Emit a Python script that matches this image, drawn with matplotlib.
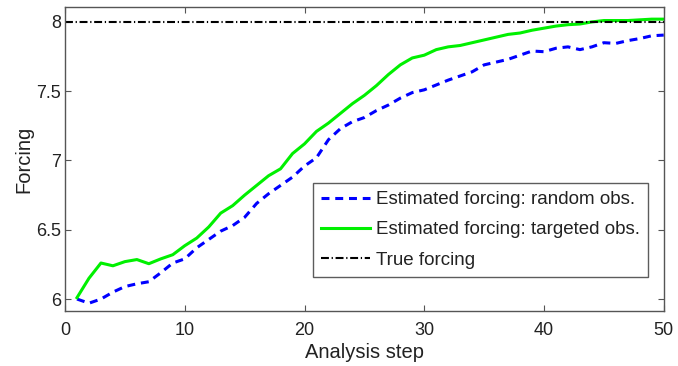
import numpy as np
import matplotlib
matplotlib.use('Agg')
import matplotlib.pyplot as plt

plt.rcParams['font.family'] = ['Liberation Sans', 'DejaVu Sans']

# analysis steps 1..50
steps = np.arange(1, 51)

# estimated forcing with random observations
random_obs = [6.00, 5.97, 6.00, 6.05, 6.09, 6.11, 6.125, 6.19, 6.26, 6.29,
              6.37, 6.43, 6.49, 6.53, 6.59, 6.69, 6.76, 6.82, 6.88, 6.96,
              7.02, 7.15, 7.23, 7.28, 7.31, 7.36, 7.40, 7.45, 7.49, 7.51,
              7.545, 7.58, 7.61, 7.64, 7.69, 7.71, 7.73, 7.76, 7.79, 7.785,
              7.81, 7.82, 7.80, 7.82, 7.85, 7.845, 7.865, 7.88, 7.90, 7.905]

# estimated forcing with targeted observations
targeted_obs = [6.01, 6.15, 6.26, 6.24, 6.27, 6.285, 6.255, 6.29, 6.32, 6.385,
                6.44, 6.52, 6.62, 6.674, 6.75, 6.82, 6.89, 6.94, 7.05, 7.12,
                7.21, 7.27, 7.34, 7.41, 7.47, 7.54, 7.62, 7.69, 7.74, 7.76,
                7.80, 7.82, 7.83, 7.85, 7.87, 7.89, 7.91, 7.92, 7.94, 7.955,
                7.97, 7.98, 7.985, 8.00, 8.01, 8.01, 8.01, 8.015, 8.02, 8.02]

true_forcing = 8.0

fig = plt.figure(figsize=(6.78, 3.66), dpi=100)
ax = fig.add_axes([0.0959, 0.150, 0.8831, 0.831])

ax.plot(steps, random_obs, color='#0000ff', lw=2.2, dashes=(2.6, 1.9),
        label='Estimated forcing: random obs.')
ax.plot(steps, targeted_obs, color='#00f000', lw=2.2,
        label='Estimated forcing: targeted obs.')
ax.plot([0, 50], [true_forcing, true_forcing], color='black', lw=1.5,
        dashes=(3.8, 1.3, 0.6, 1.3), label='True forcing')

ax.set_xlim(0, 50)
ax.set_ylim(5.913, 8.108)
ax.set_xticks([0, 10, 20, 30, 40, 50])
ax.set_yticks([6, 6.5, 7, 7.5, 8])
ax.set_yticklabels(['6', '6.5', '7', '7.5', '8'])
ax.tick_params(direction='in', top=True, right=True, length=4, width=0.8,
               color='#555555', labelsize=13, labelcolor='#222222')
ax.tick_params(axis='x', pad=8)
ax.tick_params(axis='y', pad=3)
for sp in ax.spines.values():
    sp.set_color('#555555')
    sp.set_linewidth(1.0)

ax.set_xlabel('Analysis step', fontsize=14.5, color='#222222', labelpad=3)
ax.set_ylabel('Forcing', fontsize=14.5, color='#222222', labelpad=2)

leg = ax.legend(loc='lower right', bbox_to_anchor=(0.974, 0.112),
                fontsize=13.5, frameon=True, fancybox=False,
                edgecolor='#333333', handlelength=2.6, handletextpad=0.3,
                borderpad=0.45, labelspacing=0.7, borderaxespad=0)
leg.get_frame().set_linewidth(1.0)
for t in leg.get_texts():
    t.set_color('#222222')

fig.savefig('out.png', dpi=100)
